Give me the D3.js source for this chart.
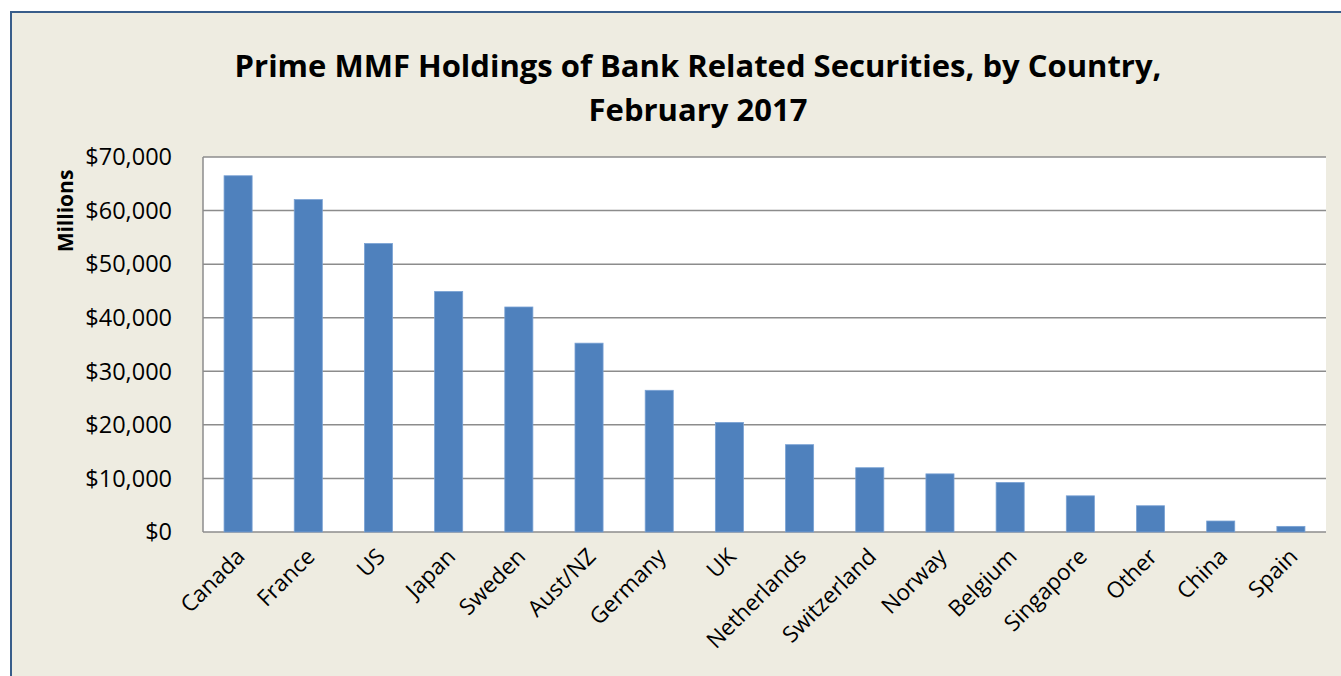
<!DOCTYPE html>
<html>
<head>
<meta charset="utf-8">
<script src="https://cdn.jsdelivr.net/npm/d3@7"></script>
<style>
  body { margin: 0; background: white; }
  text { font-family: "Open Sans", "Noto Sans", sans-serif; }
</style>
</head>
<body>
<div class="canvas"></div>
<script>
var width = 1341;
var height = 676;

// data
var countries = ["Canada", "France", "US", "Japan", "Sweden", "Aust/NZ", "Germany", "UK",
    "Netherlands", "Switzerland", "Norway", "Belgium", "Singapore", "Other", "China", "Spain"];
var holdings = [66500, 62050, 53850, 44900, 42000, 35250, 26450, 20450,
    16300, 12000, 10850, 9250, 6750, 4900, 2050, 1050];
var yTicks = [0, 10000, 20000, 30000, 40000, 50000, 60000, 70000];

const plot = { left: 203, right: 1326, top: 157, bottom: 532 };

var svg = d3.select(".canvas").append("svg")
    .attr("width", width)
    .attr("height", height);

// chart background + frame
svg.append("rect")
    .attr("x", 11).attr("y", 12)
    .attr("width", width + 20).attr("height", height + 20)
    .attr("fill", "#EEECE1")
    .attr("stroke", "#385D8A")
    .attr("stroke-width", 2);

svg.append("rect")
    .attr("x", plot.left).attr("y", plot.top)
    .attr("width", plot.right - plot.left).attr("height", plot.bottom - plot.top)
    .attr("fill", "white");

var x = d3.scaleBand()
    .domain(countries)
    .range([plot.left, plot.right])
    .paddingInner(0.6)
    .paddingOuter(0.3);

var y = d3.scaleLinear()
    .domain([0, 70000])
    .range([plot.bottom, plot.top]);

// gridlines
svg.append("g")
    .selectAll("line")
    .data(yTicks)
    .enter()
    .append("line")
    .attr("x1", plot.left).attr("x2", plot.right)
    .attr("y1", d => y(d)).attr("y2", d => y(d))
    .attr("stroke", "#8C8C8C")
    .attr("stroke-width", 1.5);

// left axis line
svg.append("line")
    .attr("x1", plot.left).attr("x2", plot.left)
    .attr("y1", plot.top).attr("y2", plot.bottom)
    .attr("stroke", "#8C8C8C")
    .attr("stroke-width", 1.5);

// bars
svg.append("g")
    .selectAll("rect")
    .data(countries)
    .enter()
    .append("rect")
    .attr("x", d => x(d))
    .attr("width", x.bandwidth())
    .attr("y", (d, i) => y(holdings[i]))
    .attr("height", (d, i) => y(0) - y(holdings[i]))
    .attr("fill", "#4F81BD")
    .attr("stroke", "#7AA2D4")
    .attr("stroke-width", 0.8);

// y tick labels
var fmt = d3.format(",");
svg.append("g")
    .selectAll("text")
    .data(yTicks)
    .enter()
    .append("text")
    .attr("x", 172)
    .attr("y", d => y(d))
    .attr("dy", "0.35em")
    .attr("text-anchor", "end")
    .style("font-size", "23.5px")
    .attr("fill", "#000")
    .text(d => "$" + fmt(d));

// x labels, rotated
svg.append("g")
    .selectAll("text")
    .data(countries)
    .enter()
    .append("text")
    .attr("text-anchor", "end")
    .attr("transform", d => "translate(" + (x(d) + x.bandwidth() / 2 + 8) + "," + (plot.bottom + 26) + ") rotate(-45)")
    .style("font-size", "22.5px")
    .attr("fill", "#000")
    .text(d => d);

// y axis title
svg.append("text")
    .attr("transform", "translate(73,211) rotate(-90)")
    .attr("text-anchor", "middle")
    .style("font-size", "21px")
    .style("font-weight", "bold")
    .text("Millions");

// title
var title = svg.append("text")
    .attr("text-anchor", "middle")
    .style("font-size", "31px")
    .style("font-weight", "bold");
title.append("tspan").attr("x", 698).attr("y", 77)
    .text("Prime MMF Holdings of Bank Related Securities, by Country,");
title.append("tspan").attr("x", 698).attr("y", 121)
    .text("February 2017");
</script>
</body>
</html>
